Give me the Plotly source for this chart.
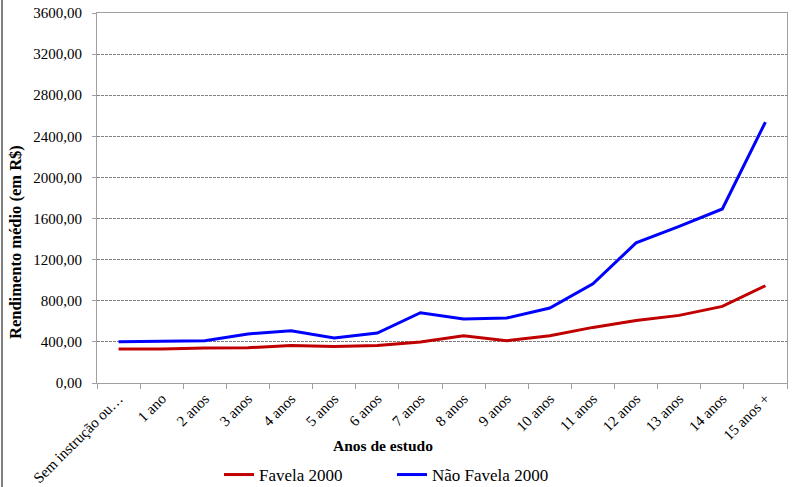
import plotly.graph_objects as go

categories = ["Sem instrução ou…", "1 ano", "2 anos", "3 anos", "4 anos", "5 anos",
              "6 anos", "7 anos", "8 anos", "9 anos", "10 anos", "11 anos",
              "12 anos", "13 anos", "14 anos", "15 anos +"]
favela_2000 = [331, 331, 340, 343, 366, 356, 366, 399, 460, 411, 460, 541, 609, 658, 745, 946]
nao_favela_2000 = [402, 410, 411, 477, 509, 438, 486, 684, 622, 632, 729, 966, 1363, 1523, 1693, 2539]
y_ticks = [0, 400, 800, 1200, 1600, 2000, 2400, 2800, 3200, 3600]

FONT = "Liberation Serif, Times New Roman, serif"
W, H = 795, 487
L, R, T, B = 97, 8, 13, 104
PW, PH = W - L - R, H - T - B

def px_x(x):
    return (x - L) / PW

def px_y(y):
    return (H - B - y) / PH

fig = go.Figure()
fig.add_trace(go.Scatter(x=categories, y=favela_2000, mode="lines", name="Favela 2000",
                         line=dict(color="#C00000", width=3)))
fig.add_trace(go.Scatter(x=categories, y=nao_favela_2000, mode="lines", name="Não Favela 2000",
                         line=dict(color="#0000FF", width=3)))

fig.update_layout(
    width=W, height=H,
    margin=dict(l=L, r=R, t=T, b=B, autoexpand=False),
    paper_bgcolor="white", plot_bgcolor="white",
    separators=",.",
    font=dict(family=FONT, color="black", size=15),
    showlegend=True,
    legend=dict(orientation="h", x=px_x(259 - 40), xanchor="left", y=px_y(475), yanchor="middle",
                font=dict(family=FONT, size=17), entrywidth=128, itemwidth=30,
                bgcolor="rgba(0,0,0,0)"),
    xaxis=dict(
        type="category", tickangle=-45, tickson="boundaries",
        ticks="outside", ticklen=5, tickcolor="#a0a0a0",
        showline=True, linecolor="#a0a0a0", linewidth=1, mirror=True,
        showgrid=False, tickfont=dict(family=FONT, size=15),
        automargin=False,
        range=[-0.5, len(categories) - 0.5],
    ),
    yaxis=dict(
        range=[0, 3600], tickvals=y_ticks, tickformat=".2f",
        ticks="outside", ticklen=4, tickcolor="#a0a0a0",
        showline=True, linecolor="#a0a0a0", linewidth=1, mirror=True,
        showgrid=True, gridcolor="#808080", gridwidth=1, griddash="3px,1px",
        zeroline=False, tickfont=dict(family=FONT, size=15),
        automargin=False, ticklabelstandoff=7,
    ),
)

fig.add_annotation(text="<b>Anos de estudo</b>", xref="paper", yref="paper",
                   x=px_x(383), y=px_y(445), xanchor="center", yanchor="middle",
                   showarrow=False, font=dict(family=FONT, size=15.5, color="black"))
fig.add_annotation(text="<b>Rendimento médio (em R$)</b>", xref="paper", yref="paper",
                   x=px_x(15), y=px_y(242), xanchor="center", yanchor="middle", textangle=-90,
                   showarrow=False, font=dict(family=FONT, size=16.5, color="black"))

fig.add_shape(type="line", xref="paper", yref="paper",
              x0=px_x(2), x1=px_x(2), y0=px_y(H), y1=px_y(0),
              line=dict(color="#808080", width=2))

fig.write_html("out.html", config={"displayModeBar": False},
               post_script="document.body.style.margin='0';")
